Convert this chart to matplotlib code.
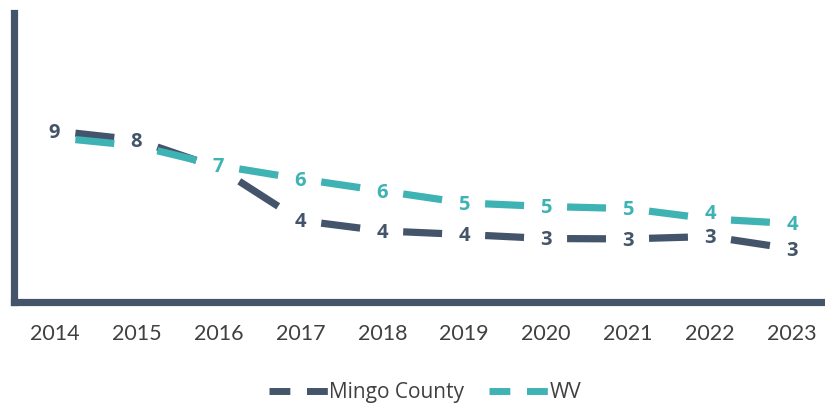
import matplotlib.pyplot as plt
from matplotlib.lines import Line2D
import numpy as np

years = ["2014", "2015", "2016", "2017", "2018", "2019", "2020", "2021", "2022", "2023"]
mingo = [8.73, 8.28, 6.88, 4.25, 3.73, 3.55, 3.35, 3.33, 3.45, 2.83]
wv = [8.40, 7.99, 7.00, 6.33, 5.73, 5.13, 4.95, 4.85, 4.33, 4.10]
series_names = ["Mingo County", "WV"]

# labels hidden behind the other series' label in the original
mingo_hidden = [2]
wv_hidden = [0, 1]
# label moved up a little where the two series get close
wv_nudge = {8: 0.35}

DARK = "#44546A"
TEAL = "#3FB2B4"

fig = plt.figure(figsize=(8.25, 4.04), dpi=100)
ax = fig.add_axes([13.5 / 825, 0.2537, (833 - 13.5) / 825, 0.7141])

x = np.arange(len(years))


def draw_series(vals, color, hidden, nudge):
    vals = np.asarray(vals)
    # one dash per segment, centred between the points
    for i in range(len(vals) - 1):
        t = np.array([0.255, 0.73])
        xs = x[i] + t
        ys = vals[i] + t * (vals[i + 1] - vals[i])
        ax.plot(xs, ys, color=color, lw=5.2, solid_capstyle="butt")
    for i, v in enumerate(vals):
        if i in hidden:
            continue
        ax.text(x[i], v - 0.08 + nudge.get(i, 0), f"{v:.0f}", ha="center", va="center",
                color=color, fontsize=14.5, fontweight="bold", family="Open Sans")


draw_series(mingo, DARK, mingo_hidden, {})
draw_series(wv, TEAL, wv_hidden, wv_nudge)

ax.set_xlim(-0.5, len(years) - 0.5)
ax.set_ylim(0.2, 14.625)
ax.set_xticks(x)
ax.set_xticklabels(years, family="Lato", fontsize=15.5, color="#404040")
ax.set_yticks([])
ax.tick_params(axis="x", length=0, pad=16)

for s in ["top", "right"]:
    ax.spines[s].set_visible(False)
for s in ["left", "bottom"]:
    ax.spines[s].set_color(DARK)
    ax.spines[s].set_linewidth(5.2)
    ax.spines[s].set_capstyle("projecting")

handles = [Line2D([], [], color=DARK, lw=5, dashes=(3.0, 2.4)),
           Line2D([], [], color=TEAL, lw=5, dashes=(3.0, 2.4))]
leg = fig.legend(handles, series_names, loc="center", bbox_to_anchor=(0.515, 0.028),
                 ncol=2, frameon=False, handlelength=2.9, handletextpad=0.0,
                 columnspacing=1.2, prop={"family": "Open Sans", "size": 15})
for t in leg.get_texts():
    t.set_color("#404040")

fig.savefig("out.png", dpi=100)
